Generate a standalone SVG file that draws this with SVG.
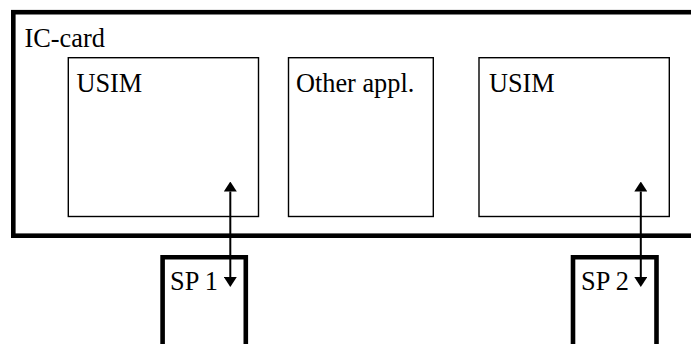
<svg xmlns="http://www.w3.org/2000/svg" width="691" height="344" viewBox="0 0 691 344">
<style>
.thick{fill:none;stroke:#000;stroke-width:4.6}
.thin{fill:none;stroke:#000;stroke-width:1.4}
.lbl{font-family:"Liberation Serif","Times New Roman",serif;font-size:26.3px;fill:#000}
.conn{stroke:#000;stroke-width:2;fill:none}
</style>
<defs>
<marker id="ah" viewBox="0 0 10 13" refX="0" refY="6.5" markerWidth="10" markerHeight="13" markerUnits="userSpaceOnUse" orient="auto-start-reverse">
<path d="M0,0 L10,6.5 L0,13 Z" fill="#000"/>
</marker>
</defs>
<rect width="691" height="344" fill="#fff"/>
<g id="ic-card">
<rect class="thick" x="13.3" y="12.2" width="690" height="223.5"/>
<text class="lbl" x="24.5" y="47">IC-card</text>
</g>
<g id="usim1">
<rect class="thin" x="68.3" y="57.7" width="190.2" height="158.8"/>
<text class="lbl" x="76.5" y="92">USIM</text>
</g>
<g id="other">
<rect class="thin" x="288.5" y="57.7" width="144.8" height="158.8"/>
<text class="lbl" x="296" y="92">Other appl.</text>
</g>
<g id="usim2">
<rect class="thin" x="479" y="57.7" width="190.3" height="158.8"/>
<text class="lbl" x="489" y="92">USIM</text>
</g>
<g id="sp1">
<path class="thick" d="M162.6,350 V257.2 H245.8 V350"/>
<text class="lbl" x="170" y="289.5">SP 1</text>
</g>
<g id="sp2">
<path class="thick" d="M573,350 V257.2 H656.5 V350"/>
<text class="lbl" x="581" y="289.5">SP 2</text>
</g>
<g id="connectors">
<line class="conn" x1="230.3" y1="191.5" x2="230.3" y2="277" marker-start="url(#ah)" marker-end="url(#ah)"/>
<line class="conn" x1="640.8" y1="191.5" x2="640.8" y2="277" marker-start="url(#ah)" marker-end="url(#ah)"/>
</g>
</svg>
